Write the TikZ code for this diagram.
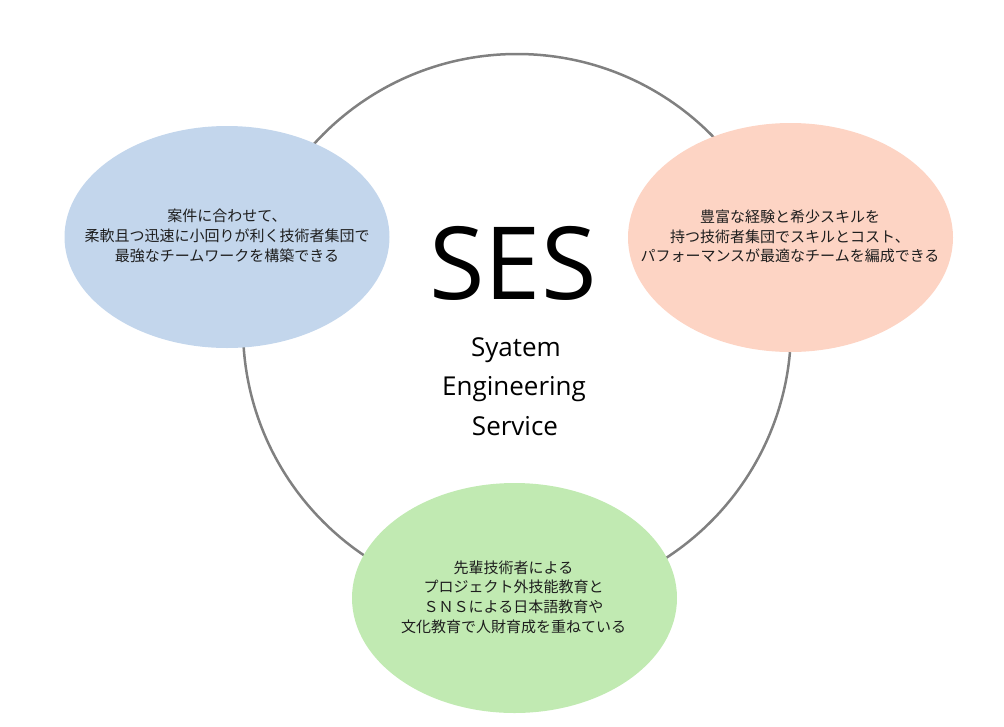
\documentclass[tikz,border=0pt]{standalone}
\usepackage{fontspec}
\setmainfont{Open Sans}
\newfontfamily\jp{Noto Sans CJK JP}
\usetikzlibrary{shapes.geometric}
\definecolor{ringgray}{RGB}{128,128,128}
\definecolor{bluefill}{RGB}{195,214,236}
\definecolor{peachfill}{RGB}{253,212,196}
\definecolor{greenfill}{RGB}{193,234,178}
\definecolor{txt}{RGB}{30,30,30}
\begin{document}
\begin{tikzpicture}[x=1pt,y=-1pt,
  bubble/.style={ellipse, inner sep=0pt, minimum width=325pt},
  bubbletext/.style={inner sep=0pt, align=center,
    font=\jp\fontsize{15}{19.7}\selectfont, text=txt},
  caption/.style={anchor=base, font=\fontsize{26}{30}\selectfont, text=black, inner sep=0pt}]
\useasboundingbox (0,0) rectangle (1004,726);
\node[circle, draw=ringgray, line width=2.5pt, minimum size=548pt, inner sep=0pt] (ring) at (517,328) {};
\node[bubble, fill=bluefill, minimum height=222pt] (left) at (227,237) {};
\node[bubble, fill=peachfill, minimum height=229pt] (right) at (790.5,237.5) {};
\node[bubble, fill=greenfill, minimum height=230pt] (bottom) at (514.5,598) {};
\node[bubbletext] (lefttext) at (227,236)
  {案件に合わせて、\\柔軟且つ迅速に小回りが利く技術者集団で\\最強なチームワークを構築できる};
\node[bubbletext] (righttext) at (790,236.5)
  {豊富な経験と希少スキルを\\持つ技術者集団でスキルとコスト、\\パフォーマンスが最適なチームを編成できる};
\node[bubbletext] (bottomtext) at (513.5,597)
  {先輩技術者による\\プロジェクト外技能教育と\\ＳＮＳによる日本語教育や\\文化教育で人財育成を重ねている};
\node[anchor=base, font=\fontsize{101}{101}\selectfont, inner sep=0pt] (ses) at (513,299) {SES};
\node[caption] (syatem) at (516,356) {Syatem};
\node[caption] (engineering) at (514,395.5) {Engineering};
\node[caption] (service) at (515,435) {Service};
\end{tikzpicture}
\end{document}
